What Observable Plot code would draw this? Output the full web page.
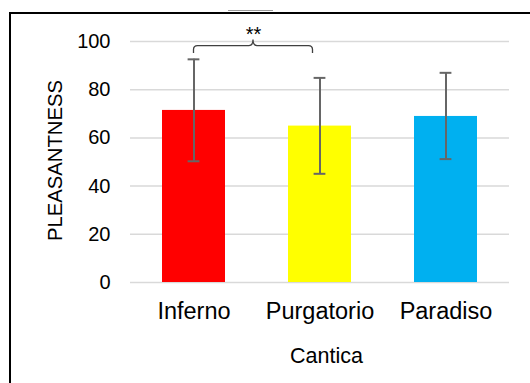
<!DOCTYPE html>
<html>
<head>
<meta charset="utf-8">
<script src="https://cdn.jsdelivr.net/npm/d3@7"></script>
<script src="https://cdn.jsdelivr.net/npm/@observablehq/plot@0.6"></script>
<style>
  html, body { margin: 0; padding: 0; background: #fff; }
  #wrap { position: relative; width: 530px; height: 383px; overflow: hidden; font-family: "Liberation Sans", Arial, sans-serif; }
  #frame { position: absolute; left: 9px; top: 12px; width: 600px; height: 500px; border-top: 2px solid #000; border-left: 2px solid #000; }
  #nub { position: absolute; left: 228px; top: 10px; width: 45px; height: 1px; background: #9a9a9a; }
  #chart { position: absolute; left: 0; top: 0; }
</style>
</head>
<body>
<div id="wrap">
  <div id="frame"></div>
  <div id="nub"></div>
  <div id="chart"></div>
</div>
<script>
const categories = ["Inferno", "Purgatorio", "Paradiso"];
const means = [71.4, 64.9, 68.9];
const lower = [50.3, 45.1, 51.2];
const upper = [92.6, 84.9, 87.0];
const colors = ["#FF0000", "#FFFF00", "#00B0F0"];
const yTicks = [0, 20, 40, 60, 80, 100];
const yLabel = "PLEASANTNESS";
const xLabel = "Cantica";
const sigPair = ["Inferno", "Purgatorio"];
const sigLabel = "**";

const data = categories.map((c, i) => ({cat: c, mean: means[i], lo: lower[i], hi: upper[i], color: colors[i]}));

const chart = Plot.plot({
  width: 530,
  height: 383,
  marginLeft: 130,
  marginRight: 21,
  marginTop: 41,
  marginBottom: 101,
  style: {fontFamily: "'Liberation Sans', Arial, sans-serif", color: "#000", background: "transparent"},
  x: {domain: categories, paddingInner: 0.5, paddingOuter: 0.25, axis: null},
  y: {domain: [0, 100], axis: null},
  marks: [
    Plot.ruleY(yTicks, {stroke: "#d9d9d9", strokeWidth: 1.5}),
    Plot.barY(data, {x: "cat", y: "mean", fill: "color"}),
    Plot.ruleX(data, {x: "cat", y1: "lo", y2: "hi", stroke: "#666666", strokeWidth: 2}),
    Plot.tickY(data, {x: "cat", y: "hi", stroke: "#666666", strokeWidth: 2, insetLeft: 25.6, insetRight: 25.6}),
    Plot.tickY(data, {x: "cat", y: "lo", stroke: "#666666", strokeWidth: 2, insetLeft: 25.6, insetRight: 25.6}),
    Plot.axisY({ticks: yTicks, tickSize: 0, tickPadding: 20, fontSize: "20px", label: null}),
    Plot.axisX({tickSize: 0, tickPadding: 20, fontSize: "23.5px", label: null}),
    Plot.text([yLabel], {frameAnchor: "left", rotate: -90, dx: -75, dy: -1.5, fontSize: "20.3px", textAnchor: "middle", lineAnchor: "middle"}),
    Plot.text([xLabel], {frameAnchor: "bottom", dx: 6.5, dy: 74, fontSize: "21.5px", textAnchor: "middle", lineAnchor: "middle"})
  ]
});

document.getElementById("chart").appendChild(chart);

// significance bracket drawn from the plot's own scales
const xs = chart.scale("x");
const ys = chart.scale("y");
const bw = xs.bandwidth;
const xL = xs.apply(sigPair[0]) + bw / 2;
const xR = xs.apply(sigPair[1]) + bw / 2 - 7;
const xM = (xL + xR) / 2;
const yEnd = ys.apply(95);
const yBar = ys.apply(98.1);
const yTip = ys.apply(100.6);
const r = 4;
const path = [
  `M${xL},${yEnd}`,
  `L${xL},${yBar + r}`,
  `Q${xL},${yBar} ${xL + r},${yBar}`,
  `L${xM - r},${yBar}`,
  `Q${xM},${yBar} ${xM},${yTip}`,
  `Q${xM},${yBar} ${xM + r},${yBar}`,
  `L${xR - r},${yBar}`,
  `Q${xR},${yBar} ${xR},${yBar + r}`,
  `L${xR},${yEnd}`
].join(" ");
const svg = d3.select(chart);
svg.append("path").attr("d", path).attr("fill", "none").attr("stroke", "#404040").attr("stroke-width", 1.3);
svg.append("text").attr("x", xM + 0.5).attr("y", ys.apply(99.9)).attr("text-anchor", "middle")
  .attr("font-size", "20px").attr("font-family", "'Liberation Sans', Arial, sans-serif").attr("fill", "#000").text(sigLabel);
</script>
</body>
</html>
